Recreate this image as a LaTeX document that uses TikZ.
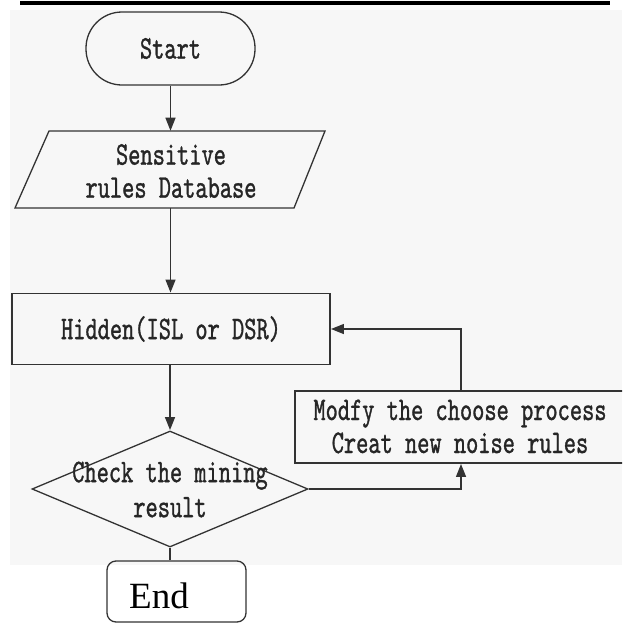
\documentclass[tikz,border=0pt]{standalone}
\usepackage{fontspec}
\newfontfamily\narrowmono{lmmono10-regular}[Extension=.otf,FakeStretch=0.705,FakeBold=1]
\newfontfamily\endserif{Liberation Serif}
\usetikzlibrary{shapes.geometric,arrows.meta}
\begin{document}
\begin{tikzpicture}[x=1pt,y=-1pt,
  lbl/.style={font=\narrowmono\fontsize{33}{33}\selectfont, text=black!85, align=center, inner sep=0pt},
  ln/.style={line width=1.3pt, draw=black!80},
  arr/.style={ln, -{Triangle[length=13pt,width=10pt]}, shorten >=0.3pt},
  boxstyle/.style={ln, rectangle, inner sep=0pt, align=center, text=black!85, font=\narrowmono\fontsize{33}{33}\selectfont}]
\useasboundingbox (0,0) rectangle (622,624);
\clip (0,0) rectangle (622,624);
\fill[black!3] (10,10) rectangle (622,565);
\draw[line width=4pt] (20,3) -- (610,3);

% Start
\node[boxstyle, rounded corners=36pt, minimum width=169pt, minimum height=73pt] (start) at (170.5,48.5) {Start};

% Sensitive rules database (parallelogram)
\coordinate (p1) at (49,131);
\coordinate (p2) at (325,131);
\coordinate (p3) at (294,208);
\coordinate (p4) at (15,208);
\draw[ln] (p1) -- (p2) -- (p3) -- (p4) -- cycle;
\node[lbl] (db) at (171,171) {Sensitive\\rules Database};
\coordinate (dbtop) at (170.5,131);
\coordinate (dbbot) at (170.5,208);

% Hidden
\node[boxstyle, minimum width=318pt, minimum height=71pt] (hid) at (171,329) {Hidden(ISL or DSR)};

% Check
\node[ln, diamond, minimum width=276pt, minimum height=116pt, inner sep=0pt] (chk) at (170,489) {};
\node[lbl, font=\narrowmono\fontsize{33}{35}\selectfont] (chktext) at (170,489.5) {Check the mining\\result};

% End
\node[ln, rounded corners=9pt, minimum width=139pt, minimum height=61pt] (endbox) at (176.5,591.5) {};
\node[inner sep=0pt, font=\endserif\fontsize{37}{40}\selectfont] (endtext) at (159,596) {End};

% Modify
\node[ln, minimum width=340pt, minimum height=72pt] (mod) at (465,427) {};
\node[lbl] (modtext) at (460,426.5) {Modfy the choose process\\Creat new noise rules};
\coordinate (lx) at (461,0);

% connectors
\draw[arr] (start.south) -- (dbtop);
\draw[arr] (dbbot) -- (dbbot |- hid.north);
\draw[arr] (chk.north |- hid.south) -- (chk.north);
\draw[ln] (chk.south) -- (chk.south |- endbox.north);
\draw[arr] (chk.east) -| (mod.south -| lx);
\draw[arr] (mod.north -| lx) |- (hid.east);
\end{tikzpicture}
\end{document}
